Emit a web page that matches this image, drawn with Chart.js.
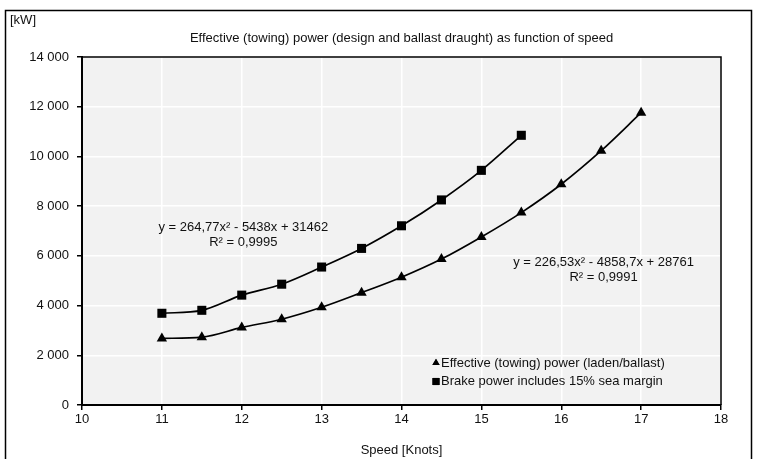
<!DOCTYPE html>
<html>
<head>
<meta charset="utf-8">
<script src="https://cdn.jsdelivr.net/npm/chart.js@4.4.1/dist/chart.umd.min.js"></script>
<style>
  html, body { margin: 0; padding: 0; background: #fff; }
</style>
</head>
<body>
<canvas id="powerChart" width="757" height="459"></canvas>
<script>
// Speed [knots] and power [kW]
const speedEffective = [11, 11.5, 12, 12.5, 13, 13.5, 14, 14.5, 15, 15.5, 16, 16.5, 17];
const effectivePower = [2680, 2730, 3120, 3450, 3930, 4520, 5140, 5870, 6760, 7740, 8880, 10230, 11760];
const speedBrake = [11, 11.5, 12, 12.5, 13, 13.5, 14, 14.5, 15, 15.5];
const brakePower = [3690, 3810, 4420, 4860, 5550, 6300, 7210, 8250, 9440, 10850];

const speedTicks = [10, 11, 12, 13, 14, 15, 16, 17, 18];
const powerTicks = [0, 2000, 4000, 6000, 8000, 10000, 12000, 14000];

const trendBrake = ['y = 264,77x² - 5438x + 31462', 'R² = 0,9995'];
const trendEffective = ['y = 226,53x² - 4858,7x + 28761', 'R² = 0,9991'];

const FONT = '"Liberation Sans", Arial, sans-serif';
const SIZE = 13;

const toPoints = (xs, ys) => xs.map((x, i) => ({ x: x, y: ys[i] }));

// grey plot area, top/right frame, outer box, titles, trend labels, legend
const decorations = {
  id: 'decorations',
  beforeDraw(chart) {
    const { ctx, chartArea: a } = chart;
    ctx.save();
    ctx.fillStyle = '#f2f2f2';
    ctx.fillRect(a.left, a.top, a.right - a.left, a.bottom - a.top);
    ctx.restore();
  },
  beforeDatasetsDraw(chart) {
    const { ctx, chartArea: a } = chart;
    ctx.save();
    ctx.strokeStyle = '#000';
    ctx.lineWidth = 1.5;
    ctx.beginPath();
    ctx.moveTo(a.left, a.top);
    ctx.lineTo(a.right, a.top);
    ctx.lineTo(a.right, a.bottom);
    ctx.stroke();
    ctx.restore();
  },
  afterDraw(chart) {
    const { ctx, chartArea: a, scales } = chart;
    ctx.save();

    // outer frame
    ctx.strokeStyle = '#000';
    ctx.lineWidth = 1.5;
    ctx.strokeRect(5.5, 10.5, 746, 480);

    ctx.fillStyle = '#111';
    ctx.font = SIZE + 'px ' + FONT;
    ctx.textBaseline = 'middle';
    ctx.textAlign = 'left';
    ctx.fillText('[kW]', 10, 20);

    ctx.textAlign = 'center';
    ctx.fillText('Effective (towing) power (design and ballast draught) as function of speed',
      (a.left + a.right) / 2, 38);

    // trendline equations
    const eq = (lines, sx, sy) => {
      const px = scales.x.getPixelForValue(sx);
      const py = scales.y.getPixelForValue(sy);
      lines.forEach((t, i) => ctx.fillText(t, px, py + i * 15));
    };
    eq(trendBrake, 12.02, 7130);
    eq(trendEffective, 16.53, 5740);

    // legend inside plot area
    ctx.textAlign = 'left';
    chart.data.datasets.forEach((ds, i) => {
      const y = a.bottom - 42 + i * 18.5;
      const x = a.left + 354;
      Chart.helpers.drawPoint(ctx, {
        pointStyle: ds.pointStyle,
        radius: ds.pointStyle === 'rect' ? 5 : 4.2,
        rotation: 0,
        borderWidth: 0
      }, x, y);
      ctx.fillStyle = '#000';
      ctx.fill();
      ctx.fillStyle = '#111';
      ctx.fillText(ds.label, x + 5, y);
    });
    ctx.restore();
  }
};

new Chart(document.getElementById('powerChart'), {
  type: 'line',
  data: {
    datasets: [{
      label: 'Effective (towing) power (laden/ballast)',
      data: toPoints(speedEffective, effectivePower),
      borderColor: '#000',
      borderWidth: 1.7,
      pointStyle: 'triangle',
      pointRadius: 6,
      pointBackgroundColor: '#000',
      pointBorderWidth: 0,
      cubicInterpolationMode: 'monotone'
    }, {
      label: 'Brake power includes 15% sea margin',
      data: toPoints(speedBrake, brakePower),
      borderColor: '#000',
      borderWidth: 1.7,
      pointStyle: 'rect',
      pointRadius: 6.4,
      pointBackgroundColor: '#000',
      pointBorderWidth: 0,
      cubicInterpolationMode: 'monotone'
    }]
  },
  options: {
    responsive: false,
    animation: false,
    layout: { padding: { left: 0, right: 36, top: 57, bottom: 0 } },
    plugins: {
      legend: { display: false },
      tooltip: { enabled: false }
    },
    scales: {
      x: {
        type: 'linear',
        min: 10,
        max: 18,
        afterBuildTicks: s => { s.ticks = speedTicks.map(v => ({ value: v })); },
        afterFit: s => { s.height = 54; },
        grid: { color: '#fff', lineWidth: 1.5, tickColor: '#000', tickLength: 5, tickWidth: 1.5 },
        border: { color: '#000', width: 2 },
        ticks: { color: '#111', font: { family: FONT, size: SIZE }, padding: 2, maxRotation: 0 },
        title: {
          display: true,
          text: 'Speed [Knots]',
          color: '#111',
          font: { family: FONT, size: SIZE },
          padding: { top: 0, bottom: 1 }
        }
      },
      y: {
        min: 0,
        max: 14000,
        afterBuildTicks: s => { s.ticks = powerTicks.map(v => ({ value: v })); },
        afterFit: s => { s.width = 82; },
        grid: { color: '#fff', lineWidth: 1.5, tickColor: '#000', tickLength: 5, tickWidth: 1.5 },
        border: { color: '#000', width: 2 },
        ticks: {
          color: '#111',
          font: { family: FONT, size: SIZE },
          padding: 8,
          callback: v => String(v).replace(/\B(?=(\d{3})+(?!\d))/g, ' ')
        }
      }
    }
  },
  plugins: [decorations]
});
</script>
</body>
</html>
